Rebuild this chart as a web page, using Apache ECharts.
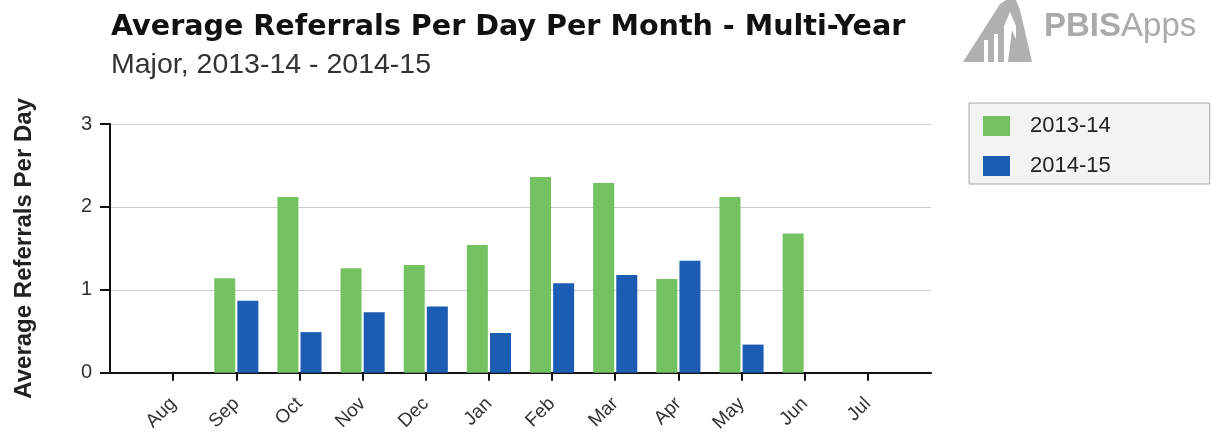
<!DOCTYPE html>
<html>
<head>
<meta charset="utf-8">
<script src="https://cdn.jsdelivr.net/npm/echarts@6/dist/echarts.min.js"></script>
<style>
    html, body { margin: 0; padding: 0; background: #fff; }
    #chart { width: 1216px; height: 435px; }
</style>
</head>
<body>
<div id="chart"></div>
<script>
    // months, school year order
    var months = ['Aug', 'Sep', 'Oct', 'Nov', 'Dec', 'Jan', 'Feb', 'Mar', 'Apr', 'May', 'Jun', 'Jul'];
    var years = ['2013-14', '2014-15'];
    var values1314 = [null, 1.14, 2.12, 1.26, 1.30, 1.54, 2.36, 2.29, 1.13, 2.12, 1.68, null];
    var values1415 = [null, 0.87, 0.49, 0.73, 0.80, 0.48, 1.08, 1.18, 1.35, 0.34, null, null];
    var yTicks = [0, 1, 2, 3];

    function toPoints(arr) {
        var out = [];
        for (var i = 0; i < arr.length; i++) {
            out.push([i + 1, arr[i]]);
        }
        return out;
    }
    var monthPos = [];
    for (var i = 0; i < months.length; i++) {
        monthPos.push(i + 1);
    }

    var myChart = echarts.init(document.getElementById('chart'), null, { renderer: 'canvas' });
    var font = 'Liberation Sans, Arial, sans-serif';
    var option = {
        backgroundColor: '#fff',
        animation: false,
        textStyle: { fontFamily: font },
        title: {
            text: 'Average Referrals Per Day Per Month - Multi-Year',
            subtext: 'Major, 2013-14 - 2014-15',
            left: 111,
            top: 13,
            itemGap: 9,
            padding: 0,
            textStyle: { fontSize: 28.6, fontWeight: 'bold', color: '#111', fontFamily: 'DejaVu Sans' },
            subtextStyle: { fontSize: 28.5, color: '#333', fontFamily: font }
        },
        legend: {
            data: years,
            orient: 'vertical',
            left: 969,
            top: 103,
            itemWidth: 27,
            itemHeight: 20,
            itemGap: 18,
            icon: 'rect',
            padding: [12, 99, 7, 14],
            backgroundColor: '#f3f3f3',
            borderColor: '#aaa',
            borderWidth: 1,
            textStyle: { fontSize: 22, color: '#222', padding: [0, 0, 0, 15] }
        },
        grid: { left: 110, right: 285, top: 124, bottom: 61, containLabel: false },
        xAxis: {
            type: 'value',
            min: 0,
            max: months.length + 1,
            interval: 1,
            axisLine: { lineStyle: { color: '#111', width: 2 } },
            axisTick: { customValues: monthPos, length: 8, lineStyle: { color: '#111', width: 2 } },
            axisLabel: {
                customValues: monthPos,
                rotate: 45,
                fontSize: 19,
                color: '#333',
                margin: 28,
                formatter: function (v) { return months[v - 1] || ''; }
            },
            splitLine: { show: false }
        },
        yAxis: {
            type: 'value',
            min: yTicks[0],
            max: yTicks[yTicks.length - 1],
            interval: 1,
            name: 'Average Referrals Per Day',
            nameLocation: 'middle',
            nameGap: 74,
            nameTextStyle: { fontSize: 24, fontWeight: 'bold', color: '#222' },
            axisLine: { show: true, lineStyle: { color: '#111', width: 2 } },
            axisTick: { show: true, length: 10, lineStyle: { color: '#111', width: 2 } },
            axisLabel: { fontSize: 20, color: '#333', margin: 18 },
            splitLine: { lineStyle: { color: '#ccc', width: 1 } }
        },
        series: [
            {
                name: years[0],
                type: 'bar',
                barWidth: 21,
                barGap: '10%',
                itemStyle: { color: '#74c162' },
                data: toPoints(values1314)
            },
            {
                name: years[1],
                type: 'bar',
                barWidth: 21,
                barGap: '10%',
                itemStyle: { color: '#1c5db3' },
                data: toPoints(values1415)
            }
        ],
        graphic: [
            {
                // logo mark
                type: 'polygon',
                shape: { points: [[963, 62], [1000, 4], [1006, 0], [1016, 0], [1020, 10], [1032, 62]] },
                style: { fill: '#b0b0b0' }
            },
            { type: 'rect', shape: { x: 984, y: 40, width: 4, height: 22 }, style: { fill: '#fff' } },
            { type: 'rect', shape: { x: 994, y: 34, width: 4, height: 28 }, style: { fill: '#fff' } },
            { type: 'polygon', shape: { points: [[1004, 62], [1004, 26], [1010, 12], [1016, 26], [1016, 62]] }, style: { fill: '#fff' } },
            { type: 'polygon', shape: { points: [[1008, 62], [1012, 30], [1026, 62]] }, style: { fill: '#b0b0b0' } },
            {
                type: 'text',
                left: 1044,
                top: 10,
                style: {
                    text: '{b|PBIS}{n|Apps}',
                    rich: {
                        b: { fontSize: 33, fontWeight: 'bold', fill: '#aaa', fontFamily: font },
                        n: { fontSize: 33, fill: '#aaa', fontFamily: font }
                    }
                }
            }
        ]
    };
    myChart.setOption(option);
</script>
</body>
</html>
